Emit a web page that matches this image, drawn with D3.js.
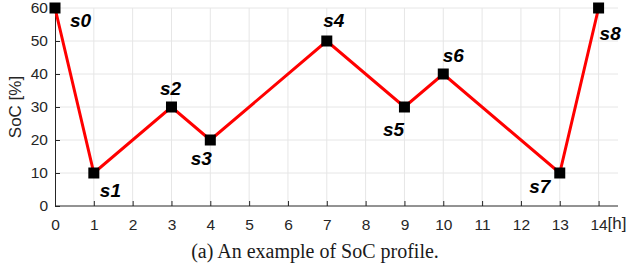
<!DOCTYPE html>
<html>
<head>
<meta charset="utf-8">
<script src="https://cdn.jsdelivr.net/npm/d3@7"></script>
<style>
  body { margin: 0; background: #fff; }
  .axis text { font-family: "Liberation Sans", Arial, sans-serif; font-size: 15.5px; fill: #262626; }
  .axis path, .axis line { stroke: #262626; }
</style>
</head>
<body>
<div id="chart"></div>
<script>
// SoC profile data
const hours = [0, 1, 3, 4, 7, 9, 10, 13, 14];
const soc = [60, 10, 30, 20, 50, 30, 40, 10, 60];
const stateNames = ["s0", "s1", "s2", "s3", "s4", "s5", "s6", "s7", "s8"];
const xTicks = d3.range(0, 15);
const yTicks = [0, 10, 20, 30, 40, 50, 60];

// label placement relative to each point (dx, dy, anchor)
const labelOffsets = [
  [15, 19, "start"], [6, 24, "start"], [-1, -12, "middle"],
  [-9, 25, "middle"], [7, -14, "middle"], [-11, 29, "middle"],
  [10, -12, "middle"], [-20, 20, "middle"], [1, 32, "start"]
];

const width = 629, height = 272;
const margin = { left: 55, top: 8, right: 11, bottom: 66 };

const svg = d3.select("#chart").append("svg")
  .attr("width", width)
  .attr("height", height);

const x = d3.scaleLinear().domain([0, 14.5]).range([margin.left, width - margin.right]);
const y = d3.scaleLinear().domain([0, 60]).range([height - margin.bottom, margin.top]);

// grid
svg.append("g").selectAll("line").data(xTicks.slice(1)).join("line")
  .attr("x1", d => x(d)).attr("x2", d => x(d))
  .attr("y1", y(0)).attr("y2", y(60))
  .attr("stroke", "#e6e6e6").attr("stroke-width", 1);
svg.append("g").selectAll("line").data(yTicks.slice(1)).join("line")
  .attr("x1", x(0)).attr("x2", x(14.5))
  .attr("y1", d => y(d)).attr("y2", d => y(d))
  .attr("stroke", "#e6e6e6").attr("stroke-width", 1);

// axes
const xAxis = svg.append("g").attr("class", "axis")
  .attr("transform", `translate(0,${y(0)})`)
  .call(d3.axisBottom(x).tickValues(xTicks).tickSize(-5).tickPadding(13).tickSizeOuter(0));
xAxis.select(".domain").attr("d", `M${x(0)},0H${x(14.5)}`);

svg.append("g").attr("class", "axis")
  .attr("transform", `translate(${x(0)},0)`)
  .call(d3.axisLeft(y).tickValues(yTicks).tickSize(-5).tickPadding(7).tickSizeOuter(0));

svg.append("text")
  .attr("x", x(14) + 9).attr("y", y(0) + 23)
  .attr("font-family", "Liberation Sans, Arial, sans-serif")
  .attr("font-size", 17).attr("fill", "#262626")
  .text("[h]");

svg.append("text")
  .attr("transform", `translate(21,107) rotate(-90)`)
  .attr("text-anchor", "middle")
  .attr("font-family", "Liberation Sans, Arial, sans-serif")
  .attr("font-size", 17).attr("fill", "#262626")
  .text("SoC [%]");

// profile line
const pts = hours.map((h, i) => [h, soc[i]]);
svg.append("path")
  .datum(pts)
  .attr("fill", "none")
  .attr("stroke", "#ff0000")
  .attr("stroke-width", 3)
  .attr("d", d3.line().x(d => x(d[0])).y(d => y(d[1])));

svg.append("g").selectAll("rect").data(pts).join("rect")
  .attr("x", d => x(d[0]) - 5.5).attr("y", d => y(d[1]) - 5.5)
  .attr("width", 11).attr("height", 11)
  .attr("fill", "#000");

svg.append("g").selectAll("text").data(pts).join("text")
  .attr("x", (d, i) => x(d[0]) + labelOffsets[i][0])
  .attr("y", (d, i) => y(d[1]) + labelOffsets[i][1])
  .attr("text-anchor", (d, i) => labelOffsets[i][2])
  .attr("font-family", "Liberation Sans, Arial, sans-serif")
  .attr("font-size", 19).attr("font-weight", "bold").attr("font-style", "italic")
  .attr("fill", "#000")
  .text((d, i) => stateNames[i]);

// caption
svg.append("text")
  .attr("x", 315).attr("y", 258)
  .attr("text-anchor", "middle")
  .attr("font-family", "Liberation Serif, Times New Roman, serif")
  .attr("font-size", 20).attr("fill", "#1a1a1a")
  .text("(a) An example of SoC profile.");
</script>
</body>
</html>
